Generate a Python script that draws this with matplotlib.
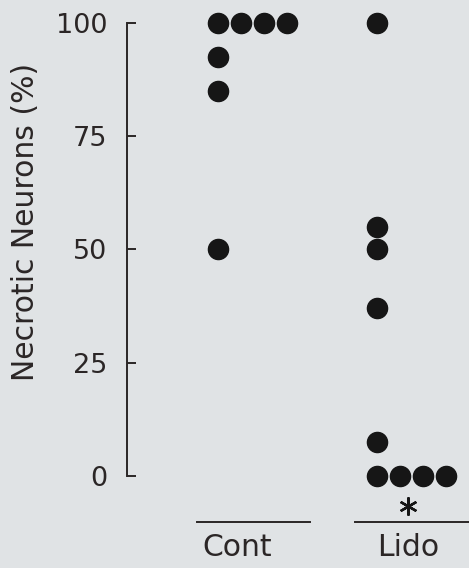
import numpy as np
import matplotlib.pyplot as plt

# porcentaje de neuronas necroticas por preparado
grupos = ["Cont", "Lido"]
cont = [100, 100, 100, 100, 92.5, 85, 50]
lido = [100, 55, 50, 37, 7.5, 0, 0, 0, 0]
valores = [cont, lido]
yticks = [0, 25, 50, 75, 100]

fondo = "#e0e3e5"
tinta = "#2b2626"

fig = plt.figure(figsize=(4.69, 5.68), dpi=100, facecolor=fondo)
ax = fig.add_axes([127 / 469, 0, 342 / 469, 1])
ax.set_facecolor(fondo)

paso = 0.145  # separacion entre puntos repetidos
for i, vals in enumerate(valores):
    base = i + 1
    vistos = {}
    xs = []
    for v in vals:
        k = vistos.get(v, 0)
        vistos[v] = k + 1
        xs.append(base + k * paso)
    ax.plot(xs, vals, "o", color="#161616", markersize=14.5, clip_on=False, zorder=3)

# asterisco de significancia bajo Lido
ax.plot([2.195], [-6.6], marker=(6, 2, 0), color="#161616", markersize=13,
        markeredgewidth=1.7, clip_on=False)

# lineas bajo cada grupo y nombres
ax.plot([0.868, 1.58], [-10.3, -10.3], color=tinta, lw=1.4, clip_on=False)
ax.plot([1.862, 2.579], [-10.3, -10.3], color=tinta, lw=1.4, clip_on=False)
ax.text(1.123, -15.8, grupos[0], ha="center", va="center", fontsize=21.5, color=tinta)
ax.text(2.198, -15.8, grupos[1], ha="center", va="center", fontsize=21.5, color=tinta)

ax.set_xlim(0.428, 2.579)
ax.set_ylim(-20.4, 105.1)
ax.set_xticks([])
ax.set_yticks(yticks)
ax.set_yticklabels([str(t) for t in yticks], fontsize=19.5, color=tinta)
ax.tick_params(axis="y", direction="in", length=6.5, width=1.4, color=tinta, pad=14)

for lado in ["top", "right", "bottom"]:
    ax.spines[lado].set_visible(False)
ax.spines["left"].set_bounds(0, 100)
ax.spines["left"].set_color(tinta)
ax.spines["left"].set_linewidth(1.4)

fig.text(26 / 469, 1 - 222 / 568, "Necrotic Neurons (%)", rotation=90,
         ha="center", va="center", fontsize=21.5, color=tinta)

fig.savefig("out.png", dpi=100, facecolor=fondo)
